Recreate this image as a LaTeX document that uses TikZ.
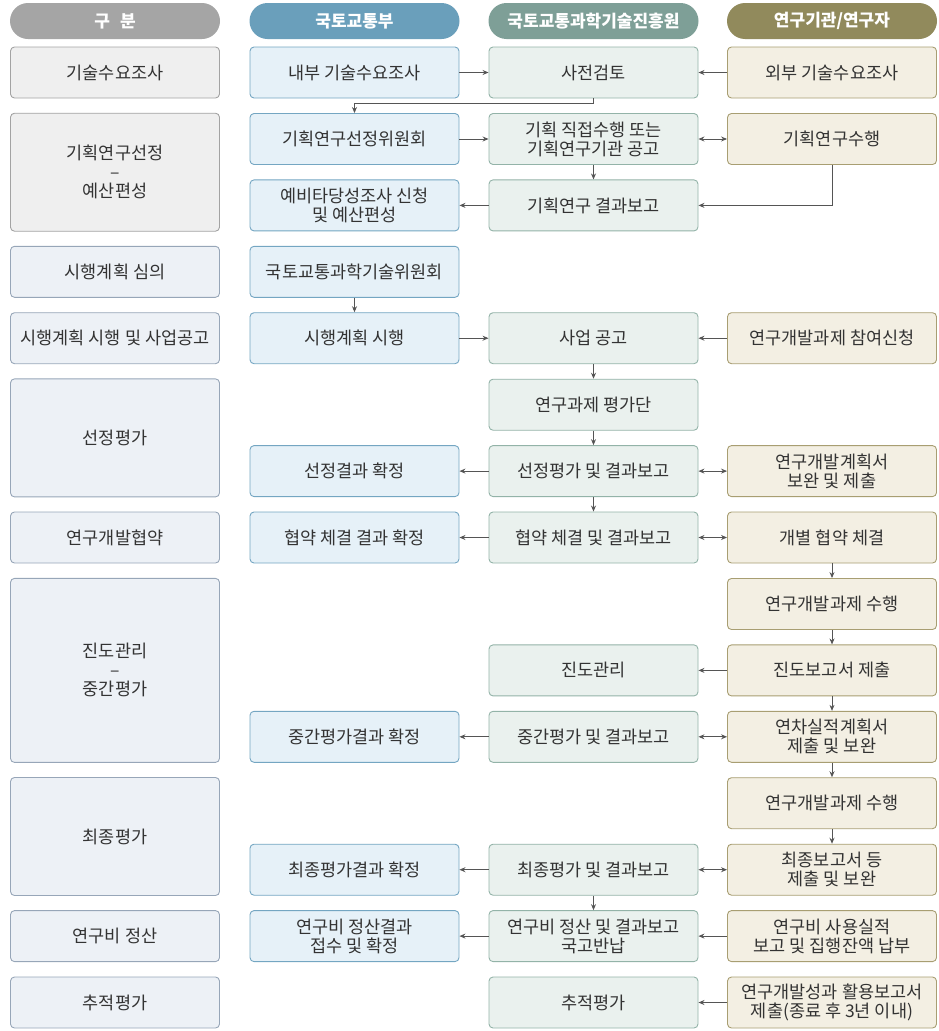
\documentclass[tikz,border=0pt]{standalone}
\usepackage{fontspec}
\setmainfont{Noto Sans CJK KR}
\usetikzlibrary{arrows.meta}
\definecolor{txt}{HTML}{333333}
\definecolor{arrc}{HTML}{555555}
\definecolor{hg}{HTML}{A5A5A5}
\definecolor{hb}{HTML}{6A9FBB}
\definecolor{hgr}{HTML}{7E9F97}
\definecolor{hy}{HTML}{918A5C}
\definecolor{fg}{HTML}{EFEFEF}\definecolor{dg}{HTML}{A3A3A3}
\definecolor{fs}{HTML}{EDF1F6}\definecolor{ds}{HTML}{97A6B8}
\definecolor{fb}{HTML}{E6F1F8}\definecolor{db}{HTML}{74A6C2}
\definecolor{fm}{HTML}{EAF1EE}\definecolor{dm}{HTML}{93B3A8}
\definecolor{fy}{HTML}{F3EFE3}\definecolor{dy}{HTML}{A89E72}
\begin{document}
\begin{tikzpicture}[x=1pt,y=-1pt,
  every node/.style={text=txt,font=\fontsize{17.5}{19}\selectfont,align=center,inner sep=0pt},
  box/.style={draw,line width=0.9pt,rounded corners=4pt,minimum width=209pt,minimum height=51pt},
  gbox/.style={box,fill=fg,draw=dg},
  sbox/.style={box,fill=fs,draw=ds},
  bbox/.style={box,fill=fb,draw=db},
  mbox/.style={box,fill=fm,draw=dm},
  ybox/.style={box,fill=fy,draw=dy},
  head/.style={rounded corners=18pt,minimum width=210pt,minimum height=36pt,text=white,font=\fontsize{17}{19}\selectfont\bfseries},
  arr/.style={draw=arrc,line width=0.9pt,-{Stealth[length=6pt,width=5pt]}},
  darr/.style={draw=arrc,line width=0.9pt,{Stealth[length=6pt,width=5pt]}-{Stealth[length=6pt,width=5pt]}}
]
\useasboundingbox (0,0) rectangle (939,1031);
% headers
\node[head,fill=hg] (h0) at (115,21) {구\hspace{0.6em}분};
\node[head,fill=hb] (h1) at (354.5,21) {국토교통부};
\node[head,fill=hgr] (h2) at (593.5,21) {국토교통과학기술진흥원};
\node[head,fill=hy] (h3) at (832,21) {연구기관/연구자};
% column 0
\node[gbox] (k0) at (115,72.5) {기술수요조사};
\node[gbox,minimum height=118pt] (k1) at (115,172.2) {기획연구선정\\–\\예산편성};
\node[sbox] (k3) at (115,271.8) {시행계획 심의};
\node[sbox] (k4) at (115,338.2) {시행계획 시행 및 사업공고};
\node[sbox,minimum height=118pt] (k5) at (115,437.9) {선정평가};
\node[sbox] (k7) at (115,537.5) {연구개발협약};
\node[sbox,minimum height=184pt] (k8) at (115,670.4) {진도관리\\–\\중간평가};
\node[sbox,minimum height=118pt] (k11) at (115,836.5) {최종평가};
\node[sbox] (k13) at (115,936.1) {연구비 정산};
\node[sbox] (k14) at (115,1002.5) {추적평가};
% column 1
\node[bbox] (a0) at (354.5,72.5) {내부 기술수요조사};
\node[bbox] (a1) at (354.5,139.0) {기획연구선정위원회};
\node[bbox] (a2) at (354.5,205.4) {예비타당성조사 신청\\및 예산편성};
\node[bbox] (a3) at (354.5,271.8) {국토교통과학기술위원회};
\node[bbox] (a4) at (354.5,338.2) {시행계획 시행};
\node[bbox] (a6) at (354.5,471.1) {선정결과 확정};
\node[bbox] (a7) at (354.5,537.5) {협약 체결 결과 확정};
\node[bbox] (a10) at (354.5,736.8) {중간평가결과 확정};
\node[bbox] (a12) at (354.5,869.7) {최종평가결과 확정};
\node[bbox] (a13) at (354.5,936.1) {연구비 정산결과\\접수 및 확정};
% column 2
\node[mbox] (b0) at (593.5,72.5) {사전검토};
\node[mbox] (b1) at (593.5,139.0) {기획 직접수행 또는\\기획연구기관 공고};
\node[mbox] (b2) at (593.5,205.4) {기획연구 결과보고};
\node[mbox] (b4) at (593.5,338.2) {사업 공고};
\node[mbox] (b5) at (593.5,404.7) {연구과제 평가단};
\node[mbox] (b6) at (593.5,471.1) {선정평가 및 결과보고};
\node[mbox] (b7) at (593.5,537.5) {협약 체결 및 결과보고};
\node[mbox] (b9) at (593.5,670.4) {진도관리};
\node[mbox] (b10) at (593.5,736.8) {중간평가 및 결과보고};
\node[mbox] (b12) at (593.5,869.7) {최종평가 및 결과보고};
\node[mbox] (b13) at (593.5,936.1) {연구비 정산 및 결과보고\\국고반납};
\node[mbox] (b14) at (593.5,1002.5) {추적평가};
% column 3
\node[ybox] (c0) at (832,72.5) {외부 기술수요조사};
\node[ybox] (c1) at (832,139.0) {기획연구수행};
\node[ybox] (c4) at (832,338.2) {연구개발과제 참여신청};
\node[ybox] (c6) at (832,471.1) {연구개발계획서\\보완 및 제출};
\node[ybox] (c7) at (832,537.5) {개별 협약 체결};
\node[ybox] (c8) at (832,604.0) {연구개발과제 수행};
\node[ybox] (c9) at (832,670.4) {진도보고서 제출};
\node[ybox] (c10) at (832,736.8) {연차실적계획서\\제출 및 보완};
\node[ybox] (c11) at (832,803.2) {연구개발과제 수행};
\node[ybox] (c12) at (832,869.7) {최종보고서 등\\제출 및 보완};
\node[ybox] (c13) at (832,936.1) {연구비 사용실적\\보고 및 집행잔액 납부};
\node[ybox] (c14) at (832,1002.5) {연구개발성과 활용보고서\\제출(종료 후 3년 이내)};
% connectors
\draw[arr] (a0) -- (b0);
\draw[arr] (c0) -- (b0);
\draw[arr] (b0.south) -- ++(0,4.5) -| (a1.north);
\draw[arr] (a1) -- (b1);
\draw[darr] (b1) -- (c1);
\draw[arr] (b1) -- (b2);
\draw[arr] (c1.south) |- (b2.east);
\draw[arr] (b2) -- (a2);
\draw[arr] (a3) -- (a4);
\draw[arr] (a4) -- (b4);
\draw[arr] (c4) -- (b4);
\draw[arr] (b4) -- (b5);
\draw[arr] (b5) -- (b6);
\draw[arr] (b6) -- (a6);
\draw[darr] (b6) -- (c6);
\draw[arr] (b6) -- (b7);
\draw[arr] (b7) -- (a7);
\draw[darr] (b7) -- (c7);
\draw[arr] (c7) -- (c8);
\draw[arr] (c8) -- (c9);
\draw[arr] (c9) -- (b9);
\draw[arr] (c9) -- (c10);
\draw[arr] (b10) -- (a10);
\draw[darr] (b10) -- (c10);
\draw[arr] (c10) -- (c11);
\draw[arr] (c11) -- (c12);
\draw[arr] (b12) -- (a12);
\draw[darr] (b12) -- (c12);
\draw[arr] (b12) -- (b13);
\draw[arr] (b13) -- (a13);
\draw[arr] (c13) -- (b13);
\draw[arr] (c14) -- (b14);
\end{tikzpicture}
\end{document}
